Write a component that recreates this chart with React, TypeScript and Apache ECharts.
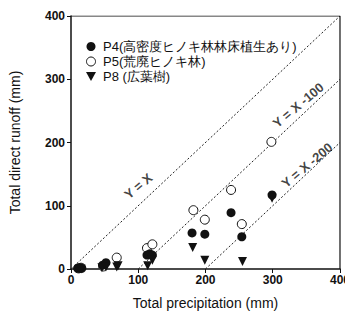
import React, { useEffect, useRef } from "react";
import * as echarts from "echarts";

const xTicks = [0, 100, 200, 300, 400];
const yTicks = [0, 100, 200, 300, 400];

const p4Name = "P4(高密度ヒノキ林林床植生あり)";
const p5Name = "P5(荒廃ヒノキ林)";
const p8Name = "P8 (広葉樹)";

const p4Data: [number, number][] = [
  [10, 1], [13, 2], [16, 1], [47, 6], [52, 10], [113, 22], [117, 24], [121, 22],
  [180, 57], [199, 55], [238, 89], [254, 51], [299, 117],
];
const p5Data: [number, number][] = [
  [11, 1], [15, 2], [48, 4], [68, 18], [113, 33], [121, 39],
  [182, 93], [199, 78], [238, 125], [254, 71], [298, 201],
];
const p8Data: [number, number][] = [
  [12, 0], [15, 0], [46, 2], [52, 3], [68, 3], [70, 5], [114, 5], [121, 14],
  [181, 34], [199, 14], [255, 12], [299, 112],
];

const refLines = [
  { name: "Y = X", data: [[0, 0], [400, 400]], labelAt: [100, 131] },
  { name: "Y = X -100", data: [[100, 0], [400, 300]], labelAt: [338, 259] },
  { name: "Y = X -200", data: [[200, 0], [400, 200]], labelAt: [351, 164] },
];

const FONT = "'Liberation Sans', Arial, sans-serif";

export default function App() {
  const ref = useRef<HTMLDivElement>(null);
  useEffect(() => {
    if (!ref.current) return;
    const chart = echarts.init(ref.current, null, { renderer: "svg" });
    const lineSeries = refLines.map((l) => ({
      type: "line",
      data: l.data,
      showSymbol: false,
      silent: true,
      lineStyle: { color: "#222", width: 1, type: [2, 2] },
      z: 1,
    }));
    const labelSeries = {
      type: "scatter",
      symbolSize: 0,
      silent: true,
      data: refLines.map((l) => ({ value: l.labelAt, name: l.name })),
      label: {
        show: true,
        position: "inside",
        formatter: (p: any) => p.name,
        rotate: 40,
        fontFamily: FONT,
        fontWeight: "bold",
        fontSize: 13,
        color: "#111",
      },
      z: 3,
    };
    chart.setOption({
      animation: false,
      backgroundColor: "#fff",
      grid: { left: 71, right: 10, top: 16, bottom: 53 },
      legend: {
        left: 81,
        top: 35,
        orient: "vertical",
        itemGap: 2,
        itemWidth: 10,
        itemHeight: 9,
        data: [
          { name: p4Name, icon: "circle" },
          { name: p5Name, icon: "circle", itemStyle: { color: "#fff", borderColor: "#111", borderWidth: 1 } },
          { name: p8Name, icon: "path://M0,0L10,0L5,9Z" },
        ],
        textStyle: { fontFamily: FONT, fontSize: 13, color: "#111", padding: [0, 0, 0, 2] },
      },
      xAxis: {
        type: "value",
        min: 0,
        max: 400,
        interval: 100,
        name: "Total precipitation (mm)",
        nameLocation: "middle",
        nameGap: 27,
        nameTextStyle: { fontFamily: FONT, fontSize: 14, color: "#111" },
        axisLine: { lineStyle: { color: "#111", width: 1.5 } },
        axisTick: { show: true, length: 4, lineStyle: { color: "#111" } },
        axisLabel: { fontFamily: FONT, fontSize: 12, fontWeight: "bold", color: "#111", margin: 5 },
        splitLine: { show: false },
      },
      yAxis: {
        type: "value",
        min: 0,
        max: 400,
        interval: 100,
        name: "Total direct runoff (mm)",
        nameLocation: "middle",
        nameGap: 49,
        nameTextStyle: { fontFamily: FONT, fontSize: 14, color: "#111" },
        axisLine: { lineStyle: { color: "#111", width: 1.5 } },
        axisTick: { show: true, length: 4, lineStyle: { color: "#111" } },
        axisLabel: { fontFamily: FONT, fontSize: 12, fontWeight: "bold", color: "#111", margin: 6 },
        splitLine: { show: false },
      },
      series: [
        ...lineSeries,
        {
          type: "line",
          data: [[0, 400], [400, 400], [400, 0]],
          showSymbol: false,
          silent: true,
          lineStyle: { color: "#111", width: 1.2 },
          z: 1,
        },
        {
          name: p5Name,
          type: "scatter",
          symbol: "circle",
          symbolSize: 9,
          itemStyle: { color: "#fff", borderColor: "#111", borderWidth: 1, opacity: 1 },
          data: p5Data,
          z: 2,
        },
        {
          name: p4Name,
          type: "scatter",
          symbol: "circle",
          symbolSize: 9,
          itemStyle: { color: "#111", opacity: 1 },
          data: p4Data,
          z: 3,
        },
        {
          name: p8Name,
          type: "scatter",
          symbol: "triangle",
          symbolRotate: 180,
          symbolSize: 9,
          itemStyle: { color: "#111", opacity: 1 },
          data: p8Data,
          z: 3,
        },
        labelSeries,
      ],
    });
    return () => chart.dispose();
  }, []);
  return <div ref={ref} style={{ width: 353, height: 322, marginLeft: -8, marginTop: -8 }} />;
}
